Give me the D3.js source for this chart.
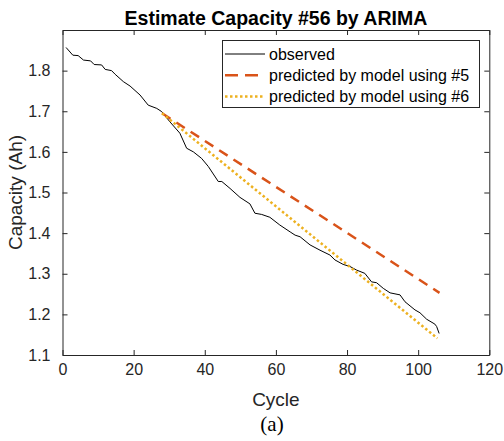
<!DOCTYPE html>
<html>
<head>
<meta charset="utf-8">
<script src="https://cdn.jsdelivr.net/npm/d3@7"></script>
<style>
  body { margin: 0; background: #fff; }
  svg { display: block; font-family: "Liberation Sans", Arial, sans-serif; }
</style>
</head>
<body>
<svg id="chart" width="504" height="441"></svg>
<script>
// observed capacity of battery #56
var obsCycle = [1, 2.9, 4.4, 5.9, 7.9, 8.9, 11, 12, 13.8, 14.8, 17.1, 19, 21.8, 24.1, 26.5, 27.9,
    30.2, 33, 34.9, 36.8, 39.1, 41, 43.8, 44.8, 47.1, 49.9, 52.7, 54.1, 56, 58.3, 61.1, 64,
    65.4, 66.8, 69.6, 72.4, 75.2, 76.6, 78.9, 80.8, 82.7, 85, 86.9, 88.3, 90.2, 92.1, 94.9,
    96.3, 99.1, 100.5, 102.4, 104.7, 105.2, 105.9];
var obsCap = [1.857, 1.838, 1.837, 1.826, 1.824, 1.815, 1.814, 1.803, 1.800, 1.791, 1.773, 1.762,
    1.740, 1.715, 1.707, 1.699, 1.674, 1.646, 1.609, 1.600, 1.584, 1.564, 1.527, 1.527, 1.510,
    1.488, 1.472, 1.449, 1.446, 1.439, 1.420, 1.403, 1.395, 1.391, 1.371, 1.358, 1.346, 1.334,
    1.323, 1.318, 1.309, 1.301, 1.280, 1.278, 1.264, 1.253, 1.248, 1.231, 1.211, 1.204, 1.188,
    1.176, 1.170, 1.153];

// predictions
var pred5Cycle = [28, 78, 106];
var pred5Cap = [1.695, 1.412, 1.253];
var pred6Cycle = [28, 80.8, 105.4];
var pred6Cap = [1.695, 1.317, 1.141];

var xTicks = [0, 20, 40, 60, 80, 100, 120];
var yTicks = [1.1, 1.2, 1.3, 1.4, 1.5, 1.6, 1.7, 1.8];
var legendLabels = ["observed", "predicted by model using #5", "predicted by model using #6"];

var axisColor = "#262626";
var colors = ["#000000", "#D95319", "#EDB120"];
var dashes = [null, "10,7", "2.5,2.5"];
var widths = [1, 2.5, 2.5];

var svg = d3.select("#chart");
var mLeft = 62.5, mRight = 489.3, mTop = 30, mBottom = 355;

var x = d3.scaleLinear().domain([0, 120]).range([mLeft, mRight]);
var y = d3.scaleLinear().domain([1.1, 1.9]).range([mBottom, mTop]);

function zip(a, b) {
    return a.map(function(d, i) { return [d, b[i]]; });
}
var series = [zip(obsCycle, obsCap), zip(pred5Cycle, pred5Cap), zip(pred6Cycle, pred6Cap)];

// axes with ticks pointing inward, box all round
var tickFont = "16px";
function styleAxis(g) {
    g.select(".domain").attr("stroke", axisColor);
    g.selectAll("line").attr("stroke", axisColor);
    g.selectAll("text").attr("fill", axisColor).style("font-size", tickFont)
        .style("font-family", "Liberation Sans, Arial, sans-serif");
}
svg.append("g")
    .attr("transform", "translate(0," + mBottom + ")")
    .call(d3.axisBottom(x).tickValues(xTicks).tickSizeInner(-5).tickSizeOuter(0).tickPadding(9))
    .call(styleAxis);
svg.append("g")
    .attr("transform", "translate(0," + mTop + ")")
    .call(d3.axisTop(x).tickValues(xTicks).tickSizeInner(-5).tickSizeOuter(0).tickFormat(""))
    .call(styleAxis);
svg.append("g")
    .attr("transform", "translate(" + mLeft + ",0)")
    .call(d3.axisLeft(y).tickValues(yTicks).tickSizeInner(-5).tickSizeOuter(0).tickPadding(12)
        .tickFormat(d3.format(".1f")))
    .call(styleAxis);
svg.append("g")
    .attr("transform", "translate(" + mRight + ",0)")
    .call(d3.axisRight(y).tickValues(yTicks).tickSizeInner(-5).tickSizeOuter(0).tickFormat(""))
    .call(styleAxis);

// lines
var line = d3.line()
    .x(function(d) { return x(d[0]); })
    .y(function(d) { return y(d[1]); });

series.forEach(function(s, i) {
    svg.append("path")
        .datum(s)
        .attr("d", line)
        .attr("fill", "none")
        .attr("stroke", colors[i])
        .attr("stroke-width", widths[i])
        .attr("stroke-dasharray", dashes[i]);
});

// title and labels
svg.append("text")
    .attr("x", (mLeft + mRight) / 2).attr("y", 25)
    .attr("text-anchor", "middle")
    .style("font-size", "19.5px").style("font-weight", "bold")
    .attr("fill", "#000")
    .text("Estimate Capacity #56 by ARIMA");

svg.append("text")
    .attr("x", (mLeft + mRight) / 2).attr("y", 406)
    .attr("text-anchor", "middle")
    .style("font-size", "19px")
    .attr("fill", axisColor)
    .text("Cycle");

svg.append("text")
    .attr("transform", "translate(22," + (mTop + mBottom) / 2 + ") rotate(-90)")
    .attr("text-anchor", "middle")
    .style("font-size", "19px")
    .attr("fill", axisColor)
    .text("Capacity (Ah)");

svg.append("text")
    .attr("x", 272).attr("y", 431)
    .attr("text-anchor", "middle")
    .style("font-family", "Liberation Serif, Times New Roman, serif")
    .style("font-size", "21px")
    .attr("fill", "#000")
    .text("(a)");

// legend
var legend = svg.append("g");
legend.append("rect")
    .attr("x", 222.5).attr("y", 40.5)
    .attr("width", 257).attr("height", 67)
    .attr("fill", "#fff")
    .attr("stroke", axisColor)
    .attr("stroke-width", 1);

legendLabels.forEach(function(lab, i) {
    var ly = 54 + i * 21.3;
    legend.append("line")
        .attr("x1", 225).attr("x2", 265)
        .attr("y1", ly).attr("y2", ly)
        .attr("stroke", colors[i])
        .attr("stroke-width", widths[i])
        .attr("stroke-dasharray", i === 1 ? "13,7" : dashes[i]);
    legend.append("text")
        .attr("x", 269).attr("y", ly + 5.5)
        .style("font-size", "16px")
        .attr("fill", "#000")
        .text(lab);
});
</script>
</body>
</html>
